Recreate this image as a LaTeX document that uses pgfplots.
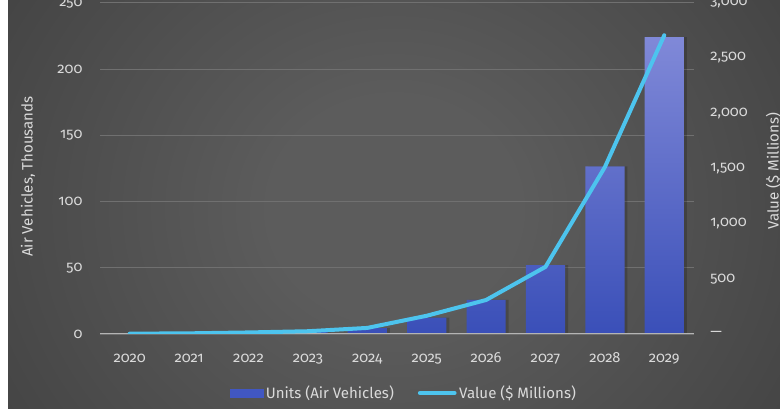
\documentclass[border=0pt]{standalone}
\usepackage{fontspec}
\setmainfont{Fira Sans}[Numbers=OldStyle]
\usepackage{pgfplots}
\pgfplotsset{compat=1.18}
\definecolor{bgc}{HTML}{5C5C5C}
\definecolor{bge}{HTML}{2E2E2E}
\definecolor{bgk}{HTML}{1F1F1F}
\definecolor{barTop}{HTML}{8089D8}
\definecolor{barBot}{HTML}{3A4FB8}
\definecolor{barLeg}{HTML}{4157C2}
\definecolor{lineC}{HTML}{4DC4EE}
\definecolor{txt}{HTML}{DADADA}
\definecolor{gridc}{HTML}{707070}
\definecolor{zeroc}{HTML}{B4B4B4}
\pgfdeclareradialshading{bgshade}{\pgfpoint{0bp}{0bp}}{color(0bp)=(bgc); color(8bp)=(bgc); color(50bp)=(bge); color(72bp)=(bgk)}
\pgfplotstableread{
x units value
0 0.5 3
1 0.6 6
2 1 14
3 2 25
4 4.5 55
5 12.3 165
6 25.7 308
7 52 608
8 126.5 1512
9 224 2705
}\datatable
\begin{document}
\begin{tikzpicture}
\useasboundingbox (0,0) rectangle (585pt,306.75pt);
\fill[white] (0,0) rectangle (6pt,306.75pt);
\begin{scope}
\clip (6pt,0) rectangle (585pt,306.75pt);
\shade[shading=bgshade] (6pt,-110pt) rectangle (585pt,410pt);
\end{scope}
\begin{axis}[
  at={(75pt,56.25pt)}, anchor=south west, scale only axis,
  width=445.5pt, height=248.5pt,
  xmin=-0.5, xmax=9.5, ymin=0, ymax=250,
  xtick={0,...,9},
  xticklabels={2020,2021,2022,2023,2024,2025,2026,2027,2028,2029},
  ytick={0,50,100,150,200,250},
  yticklabels={0,50,100,150,200,250},
  axis line style={draw=none},
  major tick length=0pt,
  ymajorgrids, grid style={draw=gridc, line width=0.6pt},
  tick label style={font=\fontsize{11}{13}\selectfont, text=txt},
  yticklabel style={anchor=east, inner sep=0pt, xshift=-13pt},
  xticklabel style={anchor=base, inner sep=0pt, yshift=-21.75pt},
]
\addplot[ybar, bar width=0.66, bar shift=0.05, fill=black, fill opacity=0.18, draw=none, forget plot] table[x=x,y=units] {\datatable};
\addplot[ybar, bar width=0.66, bar shift=0, draw=none, top color=barTop, bottom color=barBot, forget plot] table[x=x,y=units] {\datatable};
\draw[zeroc, line width=1.2pt] (axis cs:-0.5,0) -- (axis cs:9.5,0);
\end{axis}
\begin{axis}[
  at={(75pt,56.25pt)}, anchor=south west, scale only axis,
  width=445.5pt, height=248.5pt,
  xmin=-0.5, xmax=9.5, ymin=0, ymax=3000,
  axis x line=none, axis y line*=right,
  axis line style={draw=none},
  major tick length=0pt,
  ytick={0,500,1000,1500,2000,2500,3000},
  yticklabels={—,500,{1,000},{1,500},{2,000},{2,500},{3,000}},
  tick label style={font=\fontsize{11}{13}\selectfont, text=txt},
  yticklabel style={anchor=west, inner sep=0pt, xshift=12pt},
  legend style={at={(0.512,-0.178)}, anchor=center, draw=none, fill=none,
    font=\fontsize{11.3}{13}\selectfont, text=txt, legend columns=2,
    /tikz/every even column/.append style={column sep=16pt},
    inner sep=0pt},
  legend cell align=left,
]
\addlegendimage{legend image code/.code={\fill[barLeg] (0pt,-3pt) rectangle (24.75pt,3pt);}}
\addlegendentry{Units (Air Vehicles)}
\addplot[lineC, line width=3pt, line join=round, line cap=round,
  legend image code/.code={\draw[lineC, line width=3pt, line cap=round] (0pt,0pt) -- (26pt,0pt);}] table[x=x,y=value] {\datatable};
\addlegendentry{Value (\$ Millions)}
\end{axis}
\node[rotate=90, text=txt, font=\fontsize{11.3}{13}\selectfont] at (21pt,174.4pt) {Air Vehicles, Thousands};
\node[rotate=90, text=txt, font=\fontsize{11.3}{13}\selectfont] at (580pt,178.5pt) {Value (\$ Millions)};
\end{tikzpicture}
\end{document}
